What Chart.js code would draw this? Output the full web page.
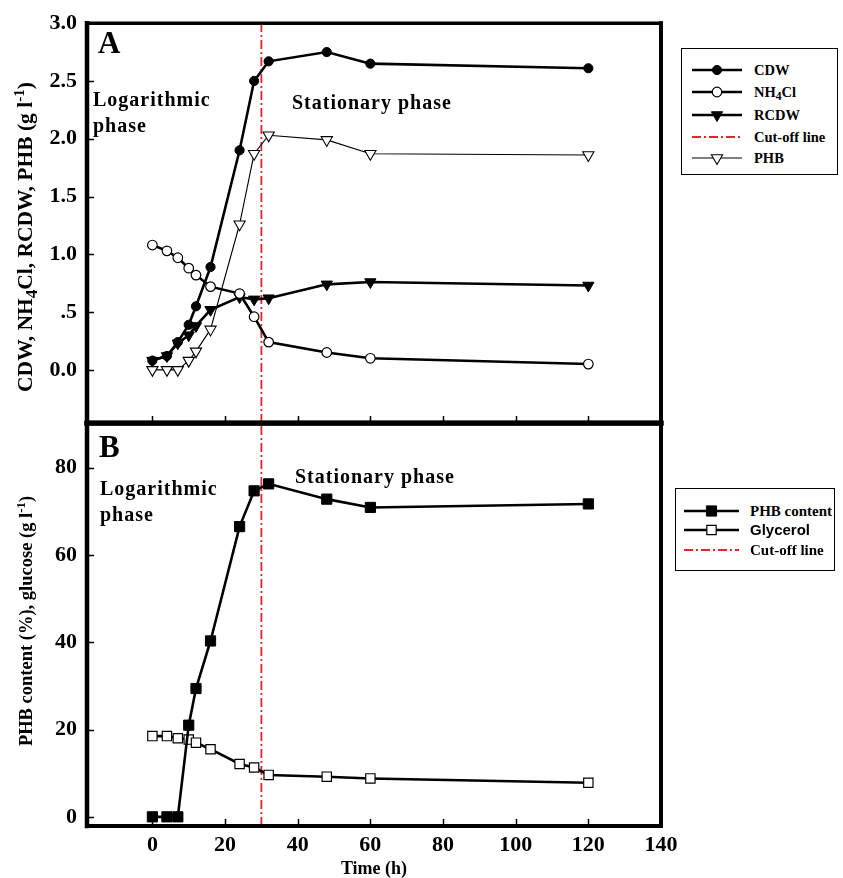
<!DOCTYPE html>
<html>
<head>
<meta charset="utf-8">
<title>Growth phases</title>
<script src="https://cdn.jsdelivr.net/npm/chart.js@4.4.1/dist/chart.umd.min.js"></script>
<style>
    body { margin: 0; background: #fff; }
    #wrap {
        position: relative; width: 843px; height: 878px; overflow: hidden;
        font-family: "Liberation Serif", "Times New Roman", serif; font-weight: bold; color: #000;
    }
    canvas { position: absolute; left: 0; }
    .txt { position: absolute; white-space: nowrap; z-index: 2; }
    .panel { font-size: 31px; line-height: 31px; }
    .note { font-size: 20px; line-height: 25.5px; letter-spacing: 1px; }
    .ytitle { position: absolute; white-space: nowrap; z-index: 2; transform: translate(-50%, -50%) rotate(-90deg); line-height: 1; }
    .ytitle sup { font-size: 70%; vertical-align: 0.55em; line-height: 0; }
    .ytitle sub, .legend sub { font-size: 80%; vertical-align: -0.3em; line-height: 0; }
    .legend { position: absolute; border: 1px solid #000; background: #fff; z-index: 2; box-sizing: border-box; }
    .legend .row { position: absolute; left: 0; height: 20px; width: 100%; }
    .legend canvas { position: absolute; top: 0; }
    .legend span { position: absolute; top: 0; line-height: 20px; white-space: nowrap; }
</style>
</head>
<body>
<div id="wrap">
    <canvas id="chartA" width="843" height="470" style="top:0"></canvas>
    <canvas id="chartB" width="843" height="478" style="top:400px"></canvas>

    <div class="txt panel" style="left:98px; top:27px">A</div>
    <div class="txt note" style="left:93px; top:87px">Logarithmic<br>phase</div>
    <div class="txt note" style="left:292px; top:90px">Stationary phase</div>

    <div class="txt panel" style="left:99px; top:431px">B</div>
    <div class="txt note" style="left:100px; top:476px">Logarithmic<br>phase</div>
    <div class="txt note" style="left:295px; top:464px">Stationary phase</div>

    <div class="ytitle" style="left:26px; top:237px; font-size:21.5px">CDW, NH<sub>4</sub>Cl, RCDW, PHB (g l<sup>-1</sup>)</div>
    <div class="ytitle" style="left:26px; top:621px; font-size:18.5px">PHB content (%), glucose (g l<sup>-1</sup>)</div>

    <div class="legend" id="legendA" style="left:681px; top:48px; width:157px; height:127px"></div>
    <div class="legend" id="legendB" style="left:675px; top:488px; width:160px; height:83px"></div>
</div>

<script>
// sampling times (h)
const hours = [0, 4, 7, 10, 12, 16, 24, 28, 32, 48, 60, 120];

// panel A (g l-1)
const cdw = [0.08, 0.12, 0.24, 0.39, 0.55, 0.89, 1.90, 2.50, 2.67, 2.75, 2.65, 2.61];
const nh4cl = [1.08, 1.03, 0.97, 0.88, 0.82, 0.72, 0.66, 0.46, 0.24, 0.15, 0.10, 0.05];
const rcdw = [0.08, 0.12, 0.23, 0.30, 0.38, 0.52, 0.63, 0.61, 0.62, 0.74, 0.76, 0.73];
const phb = [0.00, 0.00, 0.00, 0.08, 0.16, 0.35, 1.26, 1.87, 2.03, 1.99, 1.87, 1.86];

// panel B
const phbContent = [0, 0, 0, 21.0, 29.4, 40.3, 66.5, 74.7, 76.3, 72.8, 70.9, 71.7];
const glycerol = [18.5, 18.5, 18.0, 17.7, 17.0, 15.5, 12.1, 11.3, 9.6, 9.2, 8.8, 7.8];

const cutOffHour = 30;

// axes
const xTicks = [0, 20, 40, 60, 80, 100, 120, 140];
const yTicksA = [0, 0.5, 1, 1.5, 2, 2.5, 3];
const yLabelsA = ['0.0', '.5', '1.0', '1.5', '2.0', '2.5', '3.0'];
const yTicksB = [0, 20, 40, 60, 80];

const serif = '"Liberation Serif", "Times New Roman", serif';
const RED = '#e3262d';

function toPoints(values) {
    return hours.map((h, i) => ({ x: h, y: values[i] }));
}

function fixedTicks(list) {
    return (scale) => { scale.ticks = list.map(v => ({ value: v })); };
}

// frame with inward tick marks, drawn over the data
const framePlugin = {
    id: 'frame',
    afterDatasetsDraw(chart, args, opts) {
        const { ctx, chartArea: a, scales } = chart;
        ctx.save();
        ctx.strokeStyle = '#000';
        ctx.lineWidth = 1.5;
        ctx.beginPath();
        scales.x.ticks.forEach(t => {
            const px = Math.round(scales.x.getPixelForValue(t.value)) + 0.5;
            ctx.moveTo(px, a.bottom);
            ctx.lineTo(px, a.bottom - 7);
        });
        scales.y.ticks.forEach(t => {
            const py = Math.round(scales.y.getPixelForValue(t.value)) + 0.5;
            ctx.moveTo(a.left, py);
            ctx.lineTo(a.left + 7, py);
        });
        ctx.stroke();

        const side = (w, x1, y1, x2, y2) => {
            ctx.lineWidth = w;
            ctx.beginPath();
            ctx.moveTo(x1, y1);
            ctx.lineTo(x2, y2);
            ctx.stroke();
        };
        ctx.lineCap = 'square';
        side(opts.top, a.left, a.top, a.right, a.top);
        side(opts.bottom, a.left, a.bottom, a.right, a.bottom);
        side(4.5, a.left, a.top, a.left, a.bottom);
        side(4, a.right, a.top, a.right, a.bottom);
        ctx.restore();
    }
};

const tickFont = { family: serif, size: 22, weight: 'bold' };

function baseOptions(padTop, xHeight, yMin, yMax, yTicks, yLabel, showX, frame) {
    return {
        responsive: false,
        animation: false,
        devicePixelRatio: 1,
        layout: { padding: { top: padTop, right: 182, left: 0, bottom: 0 } },
        elements: { line: { tension: 0 } },
        plugins: {
            legend: { display: false },
            tooltip: { enabled: false },
            frame: frame
        },
        scales: {
            x: {
                type: 'linear',
                min: -18,
                max: 140,
                grid: { display: false, drawTicks: false },
                border: { display: false },
                ticks: { display: showX, font: tickFont, color: '#000', padding: 6 },
                title: {
                    display: showX,
                    text: 'Time (h)',
                    color: '#000',
                    font: { family: serif, size: 18, weight: 'bold', lineHeight: 1 },
                    padding: 0
                },
                afterBuildTicks: fixedTicks(xTicks),
                afterFit: (s) => { s.height = xHeight; }
            },
            y: {
                type: 'linear',
                min: yMin,
                max: yMax,
                grid: { display: false, drawTicks: false },
                border: { display: false },
                ticks: {
                    font: tickFont,
                    color: '#000',
                    padding: 10,
                    callback: yLabel
                },
                afterBuildTicks: fixedTicks(yTicks),
                afterFit: (s) => { s.width = 87; }
            }
        }
    };
}

const styleCDW = { label: 'CDW', borderColor: '#000', borderWidth: 2.6, pointStyle: 'circle', pointRadius: 4.6, pointBackgroundColor: '#000', pointBorderColor: '#000', pointBorderWidth: 1 };
const styleNH4 = { label: 'NH4Cl', borderColor: '#000', borderWidth: 2.6, pointStyle: 'circle', pointRadius: 4.8, pointBackgroundColor: '#fff', pointBorderColor: '#000', pointBorderWidth: 1.2 };
const styleRCDW = { label: 'RCDW', borderColor: '#000', borderWidth: 2.6, pointStyle: 'triangle', pointRotation: 180, pointRadius: 6.5, pointBackgroundColor: '#000', pointBorderColor: '#000', pointBorderWidth: 1 };
const stylePHB = { label: 'PHB', borderColor: '#000', borderWidth: 1.1, pointStyle: 'triangle', pointRotation: 180, pointRadius: 6.5, pointBackgroundColor: '#fff', pointBorderColor: '#000', pointBorderWidth: 1.1 };
const styleCut = { label: 'Cut-off line', borderColor: RED, borderWidth: 1.8, borderDash: [9, 3, 2, 3], pointRadius: 0 };
const styleContent = { label: 'PHB content', borderColor: '#000', borderWidth: 2.6, pointStyle: 'rect', pointRadius: 7.2, pointBackgroundColor: '#000', pointBorderColor: '#000', pointBorderWidth: 1 };
const styleGly = { label: 'Glycerol', borderColor: '#000', borderWidth: 2.6, pointStyle: 'rect', pointRadius: 6.6, pointBackgroundColor: '#fff', pointBorderColor: '#000', pointBorderWidth: 1.2 };

const yMinA = -0.46, yMaxA = 3.0;
const yMinB = -2.1, yMaxB = 90.2;

// canvas A is 470 tall: 22 top padding, plot down to 423, 47 px spare below
const chartA = new Chart(document.getElementById('chartA'), {
    type: 'line',
    data: {
        datasets: [
            { ...styleCDW, data: toPoints(cdw) },
            { ...styleNH4, data: toPoints(nh4cl) },
            { ...styleRCDW, data: toPoints(rcdw) },
            { ...stylePHB, data: toPoints(phb) },
            { ...styleCut, data: [{ x: cutOffHour, y: yMinA }, { x: cutOffHour, y: yMaxA }] }
        ]
    },
    options: baseOptions(22, 47, yMinA, yMaxA, yTicksA,
        (v) => yLabelsA[yTicksA.indexOf(v)], false, { top: 3.5, bottom: 5 }),
    plugins: [framePlugin]
});

const chartB = new Chart(document.getElementById('chartB'), {
    type: 'line',
    data: {
        datasets: [
            { ...styleContent, data: toPoints(phbContent) },
            { ...styleGly, data: toPoints(glycerol) },
            { ...styleCut, data: [{ x: cutOffHour, y: yMinB }, { x: cutOffHour, y: yMaxB }] }
        ]
    },
    options: baseOptions(23, 52, yMinB, yMaxB, yTicksB, (v) => String(v), true, { top: 5, bottom: 4 }),
    plugins: [framePlugin]
});

// legend samples drawn with the same styles as the datasets
function drawSample(canvas, st, x1, x2) {
    const ctx = canvas.getContext('2d');
    const cy = canvas.height / 2;
    ctx.strokeStyle = st.borderColor;
    ctx.lineWidth = st.borderWidth;
    ctx.setLineDash(st.borderDash || []);
    ctx.beginPath();
    ctx.moveTo(x1, cy);
    ctx.lineTo(x2, cy);
    ctx.stroke();
    ctx.setLineDash([]);
    if (st.pointRadius > 0) {
        ctx.fillStyle = st.pointBackgroundColor;
        ctx.strokeStyle = st.pointBorderColor;
        ctx.lineWidth = st.pointBorderWidth;
        Chart.helpers.drawPoint(ctx, {
            pointStyle: st.pointStyle,
            rotation: st.pointRotation || 0,
            radius: st.pointRadius,
            borderWidth: st.pointBorderWidth
        }, (x1 + x2) / 2, cy);
    }
}

function buildLegend(id, rows, lineX1, lineX2, textLeft, fontSize) {
    const box = document.getElementById(id);
    rows.forEach(r => {
        const row = document.createElement('div');
        row.className = 'row';
        row.style.top = (r.cy - 10) + 'px';
        const cv = document.createElement('canvas');
        cv.width = lineX2 + 8;
        cv.height = 20;
        row.appendChild(cv);
        const sp = document.createElement('span');
        sp.style.left = textLeft + 'px';
        sp.style.fontSize = fontSize + 'px';
        if (r.font) sp.style.fontFamily = r.font;
        sp.innerHTML = r.html;
        row.appendChild(sp);
        box.appendChild(row);
        drawSample(cv, r.style, lineX1, lineX2);
    });
}

buildLegend('legendA', [
    { style: styleCDW, html: 'CDW', cy: 21 },
    { style: styleNH4, html: 'NH<sub>4</sub>Cl', cy: 43 },
    { style: styleRCDW, html: 'RCDW', cy: 65.5 },
    { style: styleCut, html: 'Cut-off line', cy: 88 },
    { style: stylePHB, html: 'PHB', cy: 109 }
], 10, 60, 72, 14.5);

buildLegend('legendB', [
    { style: styleContent, html: 'PHB content', cy: 21.5 },
    { style: styleGly, html: 'Glycerol', cy: 40.5, font: '"Liberation Sans", Arial, sans-serif' },
    { style: styleCut, html: 'Cut-off line', cy: 60.5 }
], 8, 63, 74, 15);
</script>
</body>
</html>
